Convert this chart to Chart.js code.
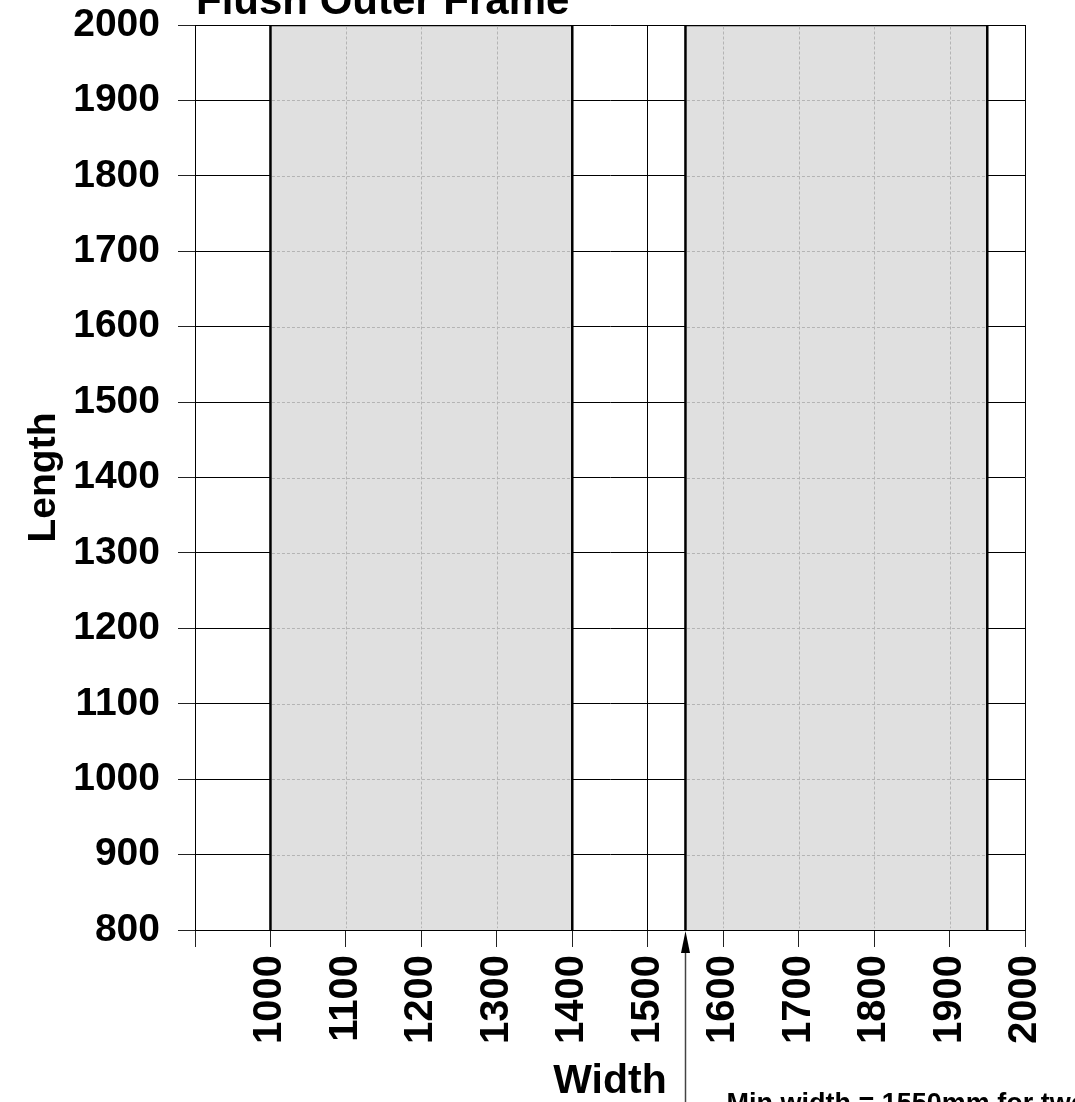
<!DOCTYPE html>
<html>
<head>
<meta charset="utf-8">
<title>Flush Outer Frame</title>
<script src="https://cdn.jsdelivr.net/npm/chart.js@4/dist/chart.umd.min.js"></script>
<style>
    body { margin: 0; background: #fff; }
    #frameChart { display: block; }
</style>
</head>
<body>
<canvas id="frameChart" width="1075" height="1102"></canvas>
<script>
// panel sizes (mm): each shaded block is one allowed width range over the full length range
const panelNames = ["Single", "Double"]
const widthFrom = [1000, 1550]
const widthTo = [1400, 1950]
const lengthFrom = [800, 800]
const lengthTo = [2000, 2000]

// axis ranges and tick labels
const widthTicks = [900, 1000, 1100, 1200, 1300, 1400, 1500, 1600, 1700, 1800, 1900, 2000]
const lengthTicks = [800, 900, 1000, 1100, 1200, 1300, 1400, 1500, 1600, 1700, 1800, 1900, 2000]
const minWidthTwo = 1550
const chartTitle = "Flush Outer Frame"
const noteText = "Min width = 1550mm for two"

const fontFam = "'Liberation Sans', Arial, sans-serif"

// each block is drawn as a closed outline filled down to the lower length limit
const datasets = panelNames.map((name, i) => {
    return {
        label: name,
        data: [
            { x: widthFrom[i], y: lengthFrom[i] },
            { x: widthFrom[i], y: lengthTo[i] },
            { x: widthTo[i], y: lengthTo[i] },
            { x: widthTo[i], y: lengthFrom[i] }
        ],
        showLine: true,
        fill: { value: lengthFrom[i] },
        backgroundColor: "#e0e0e0",
        borderColor: "#000",
        borderWidth: 2.5,
        pointRadius: 0,
        tension: 0
    }
})

// dashed grey grid lines on top of the shaded blocks
const dashedGrid = {
    id: "dashedGrid",
    afterDatasetsDraw(chart) {
        const ctx = chart.ctx
        const xs = chart.scales.x
        const ys = chart.scales.y
        panelNames.forEach((n, i) => {
            const l = xs.getPixelForValue(widthFrom[i]) + 1.5
            const r = xs.getPixelForValue(widthTo[i]) - 1.5
            const t = ys.getPixelForValue(lengthTo[i]) + 1.5
            const b = ys.getPixelForValue(lengthFrom[i]) - 1.5
            ctx.save()
            ctx.beginPath()
            ctx.rect(l, t, r - l, b - t)
            ctx.clip()
            ctx.strokeStyle = "#b4b4b4"
            ctx.lineWidth = 1
            ctx.setLineDash([3, 2])
            widthTicks.forEach(v => {
                const px = Math.round(xs.getPixelForValue(v)) + 0.5
                ctx.beginPath()
                ctx.moveTo(px, t)
                ctx.lineTo(px, b)
                ctx.stroke()
            })
            lengthTicks.forEach(v => {
                const py = Math.round(ys.getPixelForValue(v)) + 0.5
                ctx.beginPath()
                ctx.moveTo(l, py)
                ctx.lineTo(r, py)
                ctx.stroke()
            })
            ctx.restore()
        })
    }
}

// title, arrow and note for the two-panel minimum width
const notes = {
    id: "notes",
    afterDraw(chart) {
        const ctx = chart.ctx
        const area = chart.chartArea
        const xs = chart.scales.x
        ctx.save()
        ctx.fillStyle = "#000"
        ctx.font = "bold 42px " + fontFam
        ctx.textAlign = "left"
        ctx.textBaseline = "alphabetic"
        ctx.fillText(chartTitle, area.left + 1, 14)

        const ax = Math.round(xs.getPixelForValue(minWidthTwo)) + 0.5
        ctx.strokeStyle = "#444"
        ctx.lineWidth = 1.5
        ctx.beginPath()
        ctx.moveTo(ax, area.bottom + 20)
        ctx.lineTo(ax, chart.height)
        ctx.stroke()
        ctx.beginPath()
        ctx.moveTo(ax, area.bottom + 1)
        ctx.lineTo(ax - 4.5, area.bottom + 23)
        ctx.lineTo(ax + 4.5, area.bottom + 23)
        ctx.closePath()
        ctx.fill()

        ctx.font = "bold 27px " + fontFam
        ctx.fillText(noteText, ax + 41, 1112)
        ctx.restore()
    }
}

const graf = document.querySelector("#frameChart")
const myChart = new Chart(graf, {
    type: "scatter",
    data: { datasets },
    options: {
        responsive: false,
        animation: false,
        layout: { padding: { top: 25, right: 50, left: 0, bottom: 0 } },
        plugins: {
            legend: { display: false },
            tooltip: { enabled: false },
            title: { display: false }
        },
        scales: {
            x: {
                type: "linear",
                min: widthTicks[0],
                max: widthTicks[widthTicks.length - 1],
                afterFit: (s) => {
                    s.height = 172
                    s.paddingLeft = 0
                    s.paddingRight = 0
                },
                afterBuildTicks: (s) => { s.ticks = widthTicks.map(v => ({ value: v })) },
                ticks: {
                    autoSkip: false,
                    minRotation: 90,
                    maxRotation: 90,
                    padding: 8,
                    color: "#000",
                    font: { family: fontFam, weight: "bold", size: 40 },
                    callback: (v) => v === widthTicks[0] ? "" : String(v)
                },
                grid: { color: "#000", lineWidth: 1, tickLength: 17, tickColor: "#222" },
                border: { color: "#000", width: 1 },
                title: {
                    display: true,
                    text: "Width",
                    color: "#000",
                    font: { family: fontFam, weight: "bold", size: 41, lineHeight: 1 },
                    padding: { top: 0, bottom: 0 }
                }
            },
            y: {
                type: "linear",
                min: lengthTicks[0],
                max: lengthTicks[lengthTicks.length - 1],
                afterFit: (s) => {
                    s.width = 195
                    s.paddingTop = 0
                    s.paddingBottom = 0
                },
                afterBuildTicks: (s) => { s.ticks = lengthTicks.map(v => ({ value: v })) },
                ticks: {
                    autoSkip: false,
                    padding: 18,
                    color: "#000",
                    font: { family: fontFam, weight: "bold", size: 39 },
                    callback: (v) => String(v)
                },
                grid: { color: "#000", lineWidth: 1, tickLength: 17, tickColor: "#222" },
                border: { color: "#000", width: 1 },
                title: {
                    display: true,
                    text: "Length",
                    color: "#000",
                    font: { family: fontFam, weight: "bold", size: 39, lineHeight: 1 },
                    padding: { top: 25, bottom: 0 }
                }
            }
        }
    },
    plugins: [dashedGrid, notes]
})
</script>
</body>
</html>
